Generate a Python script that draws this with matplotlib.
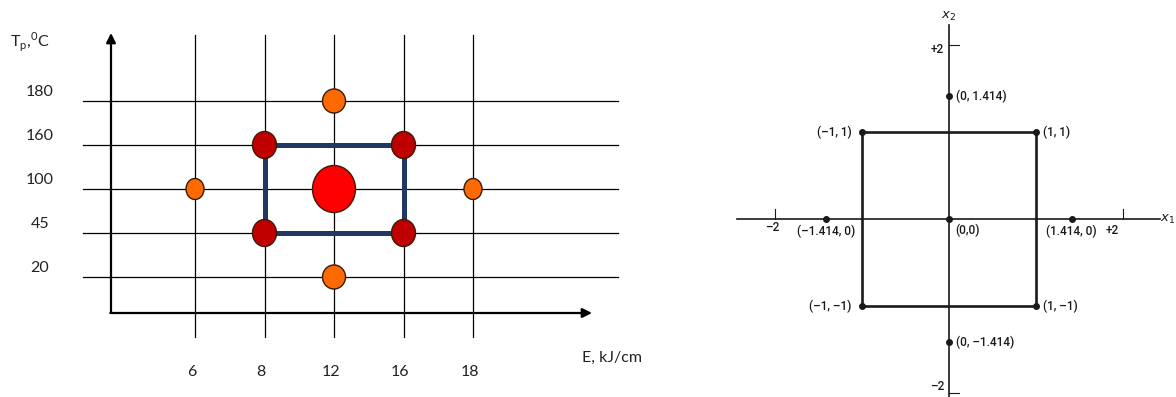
import matplotlib
matplotlib.use("Agg")
import matplotlib.pyplot as plt
import matplotlib.patches as patches

# Left panel: real factor levels
E_LEVELS = ["6", "8", "12", "16", "18"]          # E, kJ/cm
TP_LEVELS = ["20", "45", "100", "160", "180"]    # Tp, 0C

# design points as (E level, Tp level)
FACTORIAL_PTS = [("8", "45"), ("16", "45"), ("16", "160"), ("8", "160")]
AXIAL_PTS = [("12", "180"), ("12", "20"), ("6", "100"), ("18", "100")]
CENTER_PT = ("12", "100")

# Right panel: coded central composite design
X1 = [-1, 1, -1, 1, -1.414, 1.414, 0, 0, 0]
X2 = [1, 1, -1, -1, 0, 0, 1.414, -1.414, 0]
PT_LABELS = ["(–1, 1)", "(1, 1)", "(–1, –1)", "(1, –1)",
             "(–1.414, 0)", "(1.414, 0)", "(0, 1.414)", "(0, –1.414)", "(0,0)"]

W, H = 1176, 397
fig = plt.figure(figsize=(W / 100, H / 100), dpi=100)

# ---------------- left panel ----------------
PX_X0, PX_DX = 195, 69.5   # pixel of first column, pixels per column
PX_Y0, PX_DY = 277, 44     # pixel of first row, pixels per row
LW = 640

axl = fig.add_axes([0, 0, LW / W, 1])
axl.set_xlim((0 - PX_X0) / PX_DX, (LW - PX_X0) / PX_DX)
axl.set_ylim((PX_Y0 - H) / PX_DY, PX_Y0 / PX_DY)
axl.axis("off")

def px_x(p):
    return (p - PX_X0) / PX_DX

def px_y(p):
    return (PX_Y0 - p) / PX_DY

xi = {v: i for i, v in enumerate(E_LEVELS)}
yi = {v: i for i, v in enumerate(TP_LEVELS)}

font_l = "Lato"
# grid lines
for i in range(len(E_LEVELS)):
    axl.plot([i, i], [px_y(337), px_y(35)], color="black", lw=0.9, zorder=1)
for j in range(len(TP_LEVELS)):
    axl.plot([px_x(83), px_x(618)], [j, j], color="black", lw=0.9, zorder=1)

# axes with arrows
ax0, ay0 = px_x(111), px_y(313)
axl.annotate("", xy=(ax0, px_y(33)), xytext=(ax0, ay0),
             arrowprops=dict(arrowstyle="-|>", color="black", lw=1.6,
                             mutation_scale=14, shrinkA=0, shrinkB=0), zorder=2)
axl.annotate("", xy=(px_x(592), ay0), xytext=(ax0 - 0.01, ay0),
             arrowprops=dict(arrowstyle="-|>", color="black", lw=1.6,
                             mutation_scale=14, shrinkA=0, shrinkB=0), zorder=2)

# factorial square
sq = [xi[e] for e, t in FACTORIAL_PTS] + [xi[FACTORIAL_PTS[0][0]]]
sqy = [yi[t] for e, t in FACTORIAL_PTS] + [yi[FACTORIAL_PTS[0][1]]]
axl.plot(sq, sqy, color="#1F3864", lw=3.6, zorder=3, solid_capstyle="butt")

def dot(e, t, wpx, hpx, fc):
    axl.add_patch(patches.Ellipse((xi[e], yi[t]), wpx / PX_DX, hpx / PX_DY,
                                  facecolor=fc, edgecolor="#3a1a0a", lw=1.0, zorder=4))

for e, t in FACTORIAL_PTS:
    dot(e, t, 24, 27, "#C00000")
for e, t in AXIAL_PTS:
    if t == "100":
        dot(e, t, 18, 21, "#FF6A00")
    else:
        dot(e, t, 23, 24, "#FF6A00")
dot(CENTER_PT[0], CENTER_PT[1], 43, 47, "#FF0000")

# tick labels
for i, lab in enumerate(E_LEVELS):
    axl.text(i - 0.05, px_y(372), lab, ha="center", va="center",
             fontsize=11.5, family=font_l, color="#222222")
for j, lab in enumerate(TP_LEVELS):
    axl.text(px_x(40), j + 0.2, lab, ha="center", va="center",
             fontsize=11.5, family=font_l, color="#222222")
axl.text(px_x(582), px_y(358), "E, kJ/cm", ha="left", va="center",
         fontsize=11.5, family=font_l, color="#222222")
axl.text(px_x(10), px_y(42), r"T$_\mathregular{p}$,$^\mathregular{0}$C",
         ha="left", va="center", fontsize=11.5, family=font_l, color="#222222")

# ---------------- right panel ----------------
U = 87.0                  # pixels per coded unit
OX, OY = 948.7, 219.0     # origin pixel
xl = (-2.6, 2.6)
axr = fig.add_axes([(OX + xl[0] * U) / W, 0, (xl[1] - xl[0]) * U / W, 1])
axr.set_xlim(*xl)
axr.set_ylim((OY - H) / U, OY / U)
axr.axis("off")

ink = "#1a1a1a"
fr = "Roboto"
fs = 8.5
tkw = dict(fontsize=fs, family=fr, color=ink, weight="medium")
# coordinate axes
axr.plot([-2.43, 2.43], [0, 0], color=ink, lw=1.2)
axr.plot([0, 0], [-2.1, 2.23], color=ink, lw=1.2)
# ticks at +-2
tk = 10 / U
axr.plot([-2, -2], [0, tk], color=ink, lw=0.8)
axr.plot([2, 2], [0, tk], color=ink, lw=0.8)
axr.plot([0, tk], [2, 2], color=ink, lw=0.8)
axr.plot([0, tk], [-2, -2], color=ink, lw=0.8)
axr.text(-2.03, -0.1, "–2", ha="center", va="center", **tkw)
axr.text(1.88, -0.13, "+2", ha="center", va="center", **tkw)
axr.text(-0.06, 1.95, "+2", ha="right", va="center", **tkw)
axr.text(-0.05, -1.93, "–2", ha="right", va="center", **tkw)
axr.text(0.0, 2.33, r"$x_2$", ha="center", va="center", fontsize=9.5, color=ink)
axr.text(2.52, 0.0, r"$x_1$", ha="center", va="center", fontsize=9.5, color=ink)

# factorial square
fx = X1[:4]
fy = X2[:4]
order = [0, 1, 3, 2, 0]
axr.plot([fx[k] for k in order], [fy[k] for k in order], color=ink, lw=1.9, zorder=2)
axr.scatter(X1, X2, s=16, color=ink, zorder=3)

for x, y, lab in zip(X1, X2, PT_LABELS):
    if y == 0 and x != 0:
        axr.text(x, -0.14, lab, ha="center", va="center", **tkw)
    elif x == 0 and y == 0:
        axr.text(0.08, -0.13, lab, ha="left", va="center", **tkw)
    elif x < 0:
        axr.text(x - 0.12, y, lab, ha="right", va="center", **tkw)
    else:
        axr.text(x + 0.08, y, lab, ha="left", va="center", **tkw)

fig.savefig("out.png", dpi=100)
